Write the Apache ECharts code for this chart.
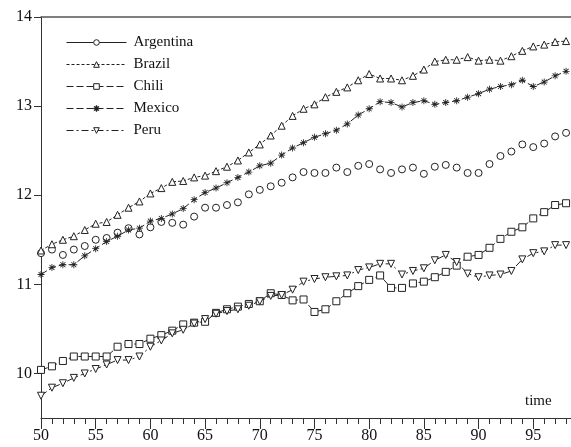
<!DOCTYPE html>
<html><head><meta charset="utf-8">
<script src="https://cdn.jsdelivr.net/npm/echarts@6/dist/echarts.min.js"></script>
<style>html,body{margin:0;padding:0;background:#fff}#c{width:571px;height:447px}</style>
</head><body><div id="c"></div>
<script>
const years = [];
for (let y = 50; y <= 98; y++) years.push(y);
const xMajorLabels = [50, 55, 60, 65, 70, 75, 80, 85, 90, 95];
const yTickLabels = [10, 11, 12, 13, 14];

const argentina = [11.35, 11.39, 11.33, 11.39, 11.43, 11.50, 11.52, 11.58, 11.63, 11.56,
  11.64, 11.70, 11.69, 11.67, 11.76, 11.86, 11.86, 11.89, 11.92, 12.01,
  12.06, 12.10, 12.14, 12.20, 12.26, 12.25, 12.25, 12.31, 12.26, 12.33,
  12.35, 12.29, 12.25, 12.29, 12.31, 12.24, 12.32, 12.34, 12.31, 12.25,
  12.25, 12.35, 12.44, 12.49, 12.57, 12.54, 12.58, 12.66, 12.70];
const brazil = [11.38, 11.45, 11.50, 11.54, 11.61, 11.68, 11.70, 11.78, 11.86, 11.93,
  12.02, 12.08, 12.15, 12.16, 12.20, 12.22, 12.27, 12.32, 12.39, 12.48,
  12.57, 12.67, 12.78, 12.89, 12.97, 13.02, 13.10, 13.16, 13.21, 13.29,
  13.36, 13.31, 13.31, 13.29, 13.34, 13.41, 13.50, 13.52, 13.52, 13.55,
  13.51, 13.52, 13.51, 13.56, 13.62, 13.67, 13.69, 13.72, 13.73];
const chili = [10.04, 10.08, 10.14, 10.19, 10.19, 10.19, 10.19, 10.30, 10.33, 10.33,
  10.39, 10.43, 10.48, 10.55, 10.57, 10.58, 10.68, 10.72, 10.75, 10.78,
  10.81, 10.90, 10.88, 10.82, 10.83, 10.69, 10.72, 10.81, 10.90, 10.98,
  11.05, 11.10, 10.96, 10.96, 11.01, 11.03, 11.08, 11.14, 11.21, 11.31,
  11.33, 11.41, 11.51, 11.59, 11.64, 11.74, 11.81, 11.89, 11.91];
const mexico = [11.11, 11.19, 11.22, 11.22, 11.32, 11.40, 11.48, 11.54, 11.61, 11.63,
  11.71, 11.74, 11.79, 11.85, 11.95, 12.03, 12.08, 12.14, 12.20, 12.26,
  12.33, 12.36, 12.45, 12.53, 12.59, 12.65, 12.69, 12.73, 12.80, 12.90,
  12.97, 13.05, 13.04, 12.99, 13.04, 13.06, 13.02, 13.04, 13.06, 13.10,
  13.14, 13.19, 13.22, 13.24, 13.29, 13.22, 13.27, 13.34, 13.39];
const peru = [9.75, 9.84, 9.89, 9.95, 10.00, 10.05, 10.10, 10.15, 10.15, 10.19,
  10.30, 10.37, 10.45, 10.49, 10.56, 10.61, 10.67, 10.70, 10.72, 10.76,
  10.81, 10.87, 10.88, 10.94, 11.03, 11.06, 11.08, 11.09, 11.10, 11.16,
  11.19, 11.23, 11.23, 11.11, 11.15, 11.18, 11.27, 11.33, 11.25, 11.12,
  11.08, 11.10, 11.11, 11.15, 11.28, 11.35, 11.37, 11.44, 11.44];

const FONT = 'Liberation Serif';
const INK = '#222';
const pair = arr => years.map((y, i) => [y, arr[i]]);
const starPath = 'path://M-0.6,-5L0.6,-5L0.6,5L-0.6,5Z M-5,-0.6L5,-0.6L5,0.6L-5,0.6Z M-3.95,-3.1L-3.1,-3.95L3.95,3.1L3.1,3.95Z M3.1,-3.95L3.95,-3.1L-3.1,3.95L-3.95,3.1Z M-1.6,-1.6L1.6,-1.6L1.6,1.6L-1.6,1.6Z';

function mk(name, data, symbol, dash, extra) {
  return Object.assign({
    name, type: 'line', data: pair(data), symbol, symbolSize: 7,
    showSymbol: true, animation: false,
    itemStyle: { color: '#fff', borderColor: INK, borderWidth: 1 },
    lineStyle: { color: INK, width: 1, type: dash },
    emphasis: { disabled: true }
  }, extra || {});
}

const chart = echarts.init(document.getElementById('c'), null, { renderer: 'canvas' });
chart.setOption({
  animation: false,
  backgroundColor: '#fff',
  textStyle: { fontFamily: FONT },
  grid: { left: 41, top: 17, right: 0, bottom: 29 },
  legend: {
    orient: 'vertical', left: 61, top: 30, itemWidth: 60, itemHeight: 7, itemGap: 7,
    lineStyle: { width: 1 },
    itemStyle: { borderWidth: 1 },
    textStyle: { fontFamily: FONT, fontSize: 15, color: '#111', lineHeight: 14, padding: [0, 0, 0, 2] },
    data: [
      { name: 'Argentina', lineStyle: { width: 1, color: INK, type: 'solid', opacity: 1 } },
      { name: 'Brazil' }, { name: 'Chili' }, { name: 'Mexico' }, { name: 'Peru' }
    ]
  },
  xAxis: [{
    type: 'value', min: 50, max: 98.45, position: 'bottom',
    axisLine: { show: true, lineStyle: { color: '#333', width: 1 } },
    axisTick: { show: true, customValues: years, length: 6, lineStyle: { color: '#333' } },
    axisLabel: { customValues: xMajorLabels, fontFamily: FONT, fontSize: 16, color: '#111', margin: 10 },
    splitLine: { show: false }
  }, {
    type: 'value', min: 50, max: 98.45, position: 'bottom',
    axisLine: { show: false },
    axisTick: { show: true, customValues: xMajorLabels, length: 11, lineStyle: { color: '#333' } },
    axisLabel: { show: false },
    splitLine: { show: false }
  }, {
    type: 'value', min: 50, max: 98.45, position: 'top',
    axisLine: { show: true, lineStyle: { color: '#555', width: 1.5 } },
    axisTick: { show: false },
    axisLabel: { show: false },
    splitLine: { show: false }
  }],
  yAxis: {
    type: 'value', min: 9.5, max: 14,
    axisLine: { show: true, lineStyle: { color: '#333', width: 1 } },
    axisTick: { show: true, customValues: yTickLabels, length: 7, lineStyle: { color: '#333' } },
    axisLabel: { customValues: yTickLabels, fontFamily: FONT, fontSize: 16, color: '#111', margin: 9 },
    splitLine: { show: false }
  },
  graphic: [{ type: 'text', left: 525, top: 394, style: { text: 'time', font: '15px "Liberation Serif"', fill: '#111' } }],
  series: [
    mk('Argentina', argentina, 'circle', 'solid', { lineStyle: { width: 0, opacity: 0, color: INK } }),
    mk('Brazil', brazil, 'triangle', [3, 2]),
    mk('Chili', chili, 'rect', [7, 3]),
    mk('Mexico', mexico, starPath, [7, 3], { itemStyle: { color: INK, borderColor: INK, borderWidth: 0 } }),
    mk('Peru', peru, 'triangle', [7, 3, 2, 3], { symbolRotate: 180 })
  ]
});
</script></body></html>
